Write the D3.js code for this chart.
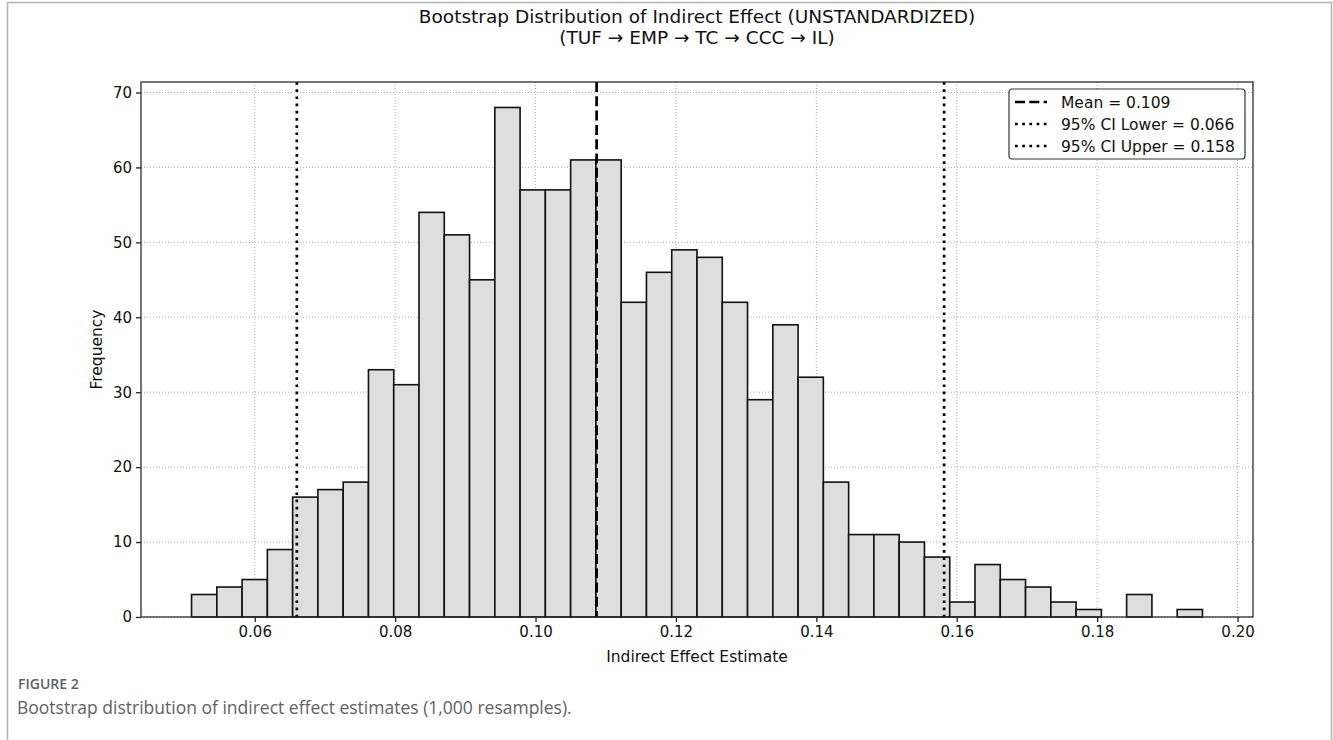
<!DOCTYPE html>
<html>
<head>
<meta charset="utf-8">
<script src="https://cdn.jsdelivr.net/npm/d3@7"></script>
<style>
  body { margin: 0; background: #fff; }
  svg { display: block; font-family: "DejaVu Sans", sans-serif; }
</style>
</head>
<body>
<svg width="1333" height="740"></svg>
<script>
// histogram counts, 40 equal bins between binMin and binMax (1,000 resamples)
const counts = [3, 4, 5, 9, 16, 17, 18, 33, 31, 54, 51, 45, 68, 57, 57, 61, 61, 42, 46, 49,
                48, 42, 29, 39, 32, 18, 11, 11, 10, 8, 2, 7, 5, 4, 2, 1, 0, 3, 0, 1];
const binMin = 0.0510;
const binMax = 0.1950;

const meanValue = 0.1087;
const ciLower = 0.0660;
const ciUpper = 0.1582;

const xTicks = [0.06, 0.08, 0.10, 0.12, 0.14, 0.16, 0.18, 0.20];
const yTicks = [0, 10, 20, 30, 40, 50, 60, 70];
const legendLabels = ['Mean = 0.109', '95% CI Lower = 0.066', '95% CI Upper = 0.158'];

const svg = d3.select('svg');
const plotLeft = 141, plotRight = 1253, plotTop = 82, plotBottom = 617;

// card frame
svg.append('rect')
  .attr('x', 7.5).attr('y', 2.5).attr('width', 1324).attr('height', 760)
  .attr('fill', 'none').attr('stroke', '#b4b4b8').attr('stroke-width', 1.5);

const step = (binMax - binMin) / counts.length;
const bins = counts.map((c, i) => ({ x0: binMin + i * step, x1: binMin + (i + 1) * step, n: c }));

const pad = (binMax - binMin) * 0.05;
const x = d3.scaleLinear().domain([binMin - pad, binMax + pad]).range([plotLeft, plotRight]);
const y = d3.scaleLinear().domain([0, d3.max(counts) * 1.05]).range([plotBottom, plotTop]);

// grid
const grid = svg.append('g');
grid.selectAll('.gx').data(xTicks).enter().append('line')
  .attr('x1', d => x(d)).attr('x2', d => x(d)).attr('y1', plotTop).attr('y2', plotBottom)
  .attr('stroke', '#b0b0b0').attr('stroke-width', 1).attr('stroke-dasharray', '1,2');
grid.selectAll('.gy').data(yTicks).enter().append('line')
  .attr('x1', plotLeft).attr('x2', plotRight).attr('y1', d => y(d)).attr('y2', d => y(d))
  .attr('stroke', '#b0b0b0').attr('stroke-width', 1).attr('stroke-dasharray', '1,2');

// bars
svg.append('g').selectAll('rect')
  .data(bins.filter(d => d.n > 0))
  .enter().append('rect')
    .attr('x', d => x(d.x0))
    .attr('width', d => x(d.x1) - x(d.x0))
    .attr('y', d => y(d.n))
    .attr('height', d => y(0) - y(d.n))
    .attr('fill', '#dedede')
    .attr('stroke', '#111')
    .attr('stroke-width', 1.6);

// reference lines
const refLines = [
  { v: meanValue, dash: '10,4.3' },
  { v: ciLower, dash: '2.7,4.5' },
  { v: ciUpper, dash: '2.7,4.5' }
];
svg.append('g').selectAll('line')
  .data(refLines)
  .enter().append('line')
    .attr('x1', d => x(d.v)).attr('x2', d => x(d.v))
    .attr('y1', plotTop).attr('y2', plotBottom)
    .attr('stroke', '#000').attr('stroke-width', 2.7)
    .attr('stroke-dasharray', d => d.dash);

// axes
const xAxis = svg.append('g')
  .attr('transform', `translate(0,${plotBottom})`)
  .call(d3.axisBottom(x).tickValues(xTicks).tickFormat(d3.format('.2f')).tickSize(5).tickPadding(4));
const yAxis = svg.append('g')
  .attr('transform', `translate(${plotLeft},0)`)
  .call(d3.axisLeft(y).tickValues(yTicks).tickSize(5).tickPadding(4));

[xAxis, yAxis].forEach(a => {
  a.select('.domain').remove();
  a.selectAll('.tick line').attr('stroke', '#222').attr('stroke-width', 1.3);
  a.selectAll('.tick text').attr('fill', '#111')
    .style('font-family', '"DejaVu Sans", sans-serif').style('font-size', '15px');
});

// spines
svg.append('rect')
  .attr('x', plotLeft).attr('y', plotTop).attr('width', plotRight - plotLeft).attr('height', plotBottom - plotTop)
  .attr('fill', 'none').attr('stroke', '#2b2b2b').attr('stroke-width', 1.3);

// titles and labels
const cx = (plotLeft + plotRight) / 2;
svg.append('text').attr('x', cx).attr('y', 23).attr('text-anchor', 'middle')
  .style('font-size', '18.5px').attr('fill', '#111')
  .text('Bootstrap Distribution of Indirect Effect (UNSTANDARDIZED)');
svg.append('text').attr('x', cx).attr('y', 44).attr('text-anchor', 'middle')
  .style('font-size', '18.5px').attr('fill', '#111')
  .text('(TUF \u2192 EMP \u2192 TC \u2192 CCC \u2192 IL)');
svg.append('text').attr('x', cx).attr('y', 662).attr('text-anchor', 'middle')
  .style('font-size', '15.5px').attr('fill', '#111')
  .text('Indirect Effect Estimate');
svg.append('text')
  .attr('transform', `translate(102,${(plotTop + plotBottom) / 2}) rotate(-90)`)
  .attr('text-anchor', 'middle')
  .style('font-size', '15.5px').attr('fill', '#111')
  .text('Frequency');

// legend
const lg = svg.append('g').attr('transform', 'translate(1009,89)');
lg.append('rect').attr('width', 236).attr('height', 70).attr('rx', 3)
  .attr('fill', '#fff').attr('stroke', '#333').attr('stroke-width', 1.2);
const rows = lg.selectAll('.row').data(legendLabels).enter().append('g')
  .attr('transform', (d, i) => `translate(0,${13 + i * 22})`);
rows.append('line')
  .attr('x1', 6).attr('x2', 38).attr('y1', 0).attr('y2', 0)
  .attr('stroke', '#000').attr('stroke-width', 2.7)
  .attr('stroke-dasharray', (d, i) => refLines[i].dash);
rows.append('text').attr('x', 52).attr('y', 5.5)
  .style('font-size', '15.5px').attr('fill', '#111')
  .text(d => d);

// caption
svg.append('text').attr('x', 18).attr('y', 689)
  .style('font-family', '"Open Sans", sans-serif').style('font-size', '14px')
  .style('font-weight', 600).attr('fill', '#5b6168')
  .text('FIGURE 2');
svg.append('text').attr('x', 17).attr('y', 714)
  .style('font-family', '"Open Sans", sans-serif').style('font-size', '17.5px')
  .attr('fill', '#626262')
  .text('Bootstrap distribution of indirect effect estimates (1,000 resamples).');
</script>
</body>
</html>
